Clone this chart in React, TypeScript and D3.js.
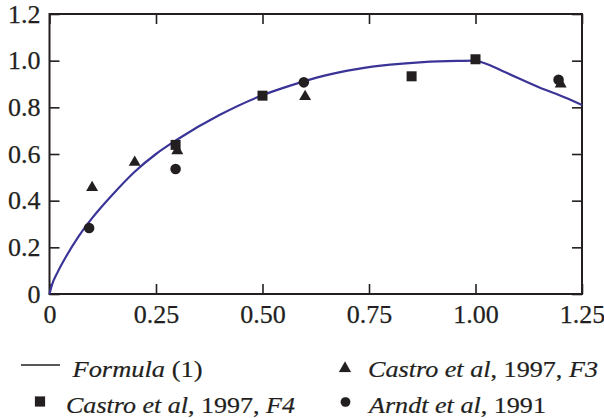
import React, { useEffect, useRef } from 'react';
import * as d3 from 'd3';

// curve "Formula (1)"
const formulaX = [0, 0.005, 0.02, 0.04, 0.068, 0.1, 0.15, 0.2, 0.25, 0.3, 0.4, 0.5, 0.565, 0.643, 0.721, 0.8, 0.877, 0.956, 1.0, 1.02, 1.07, 1.15, 1.21, 1.25];
const formulaY = [0, 0.035, 0.097, 0.164, 0.246, 0.325, 0.43, 0.524, 0.6, 0.662, 0.768, 0.852, 0.893, 0.935, 0.964, 0.983, 0.994, 0.999, 1.0, 0.99, 0.95, 0.885, 0.842, 0.81];

// Castro et al, 1997, F3 (triangles)
const castroF3X = [0.1, 0.2, 0.3, 0.6, 1.2];
const castroF3Y = [0.456, 0.564, 0.614, 0.846, 0.9];

// Castro et al, 1997, F4 (squares)
const castroF4X = [0.296, 0.5, 0.85, 1.0];
const castroF4Y = [0.639, 0.85, 0.933, 1.006];

// Arndt et al, 1991 (circles)
const arndtX = [0.093, 0.296, 0.597, 1.195];
const arndtY = [0.283, 0.536, 0.907, 0.918];

const xTicks = [0, 0.25, 0.5, 0.75, 1.0, 1.25];
const xTickLabels = ['0', '0.25', '0.50', '0.75', '1.00', '1.25'];
const yTicks = [0, 0.2, 0.4, 0.6, 0.8, 1.0, 1.2];
const yTickLabels = ['0', '0.2', '0.4', '0.6', '0.8', '1.0', '1.2'];

const ink = '#231f20';
const curveColor = '#3b3497';

export default function App() {
  const svgRef = useRef<SVGSVGElement>(null);
  const width = 604;
  const height = 418;
  const margin = { top: 14, right: 22, bottom: 124, left: 49.5 };

  useEffect(() => {
    const svg = d3.select(svgRef.current);
    svg.selectAll('*').remove();

    const x = d3.scaleLinear().domain([0, 1.25]).range([margin.left, width - margin.right]);
    const y = d3.scaleLinear().domain([0, 1.2]).range([height - margin.bottom, margin.top]);
    const font = "'Liberation Serif', serif";

    // ticks, pointing inward, on all four sides
    const bottom = svg.append('g')
      .attr('transform', `translate(0,${y(0)})`)
      .call(d3.axisBottom(x).tickValues(xTicks).tickSizeInner(-10).tickSizeOuter(0).tickPadding(11)
        .tickFormat((_, i) => xTickLabels[i]));
    const left = svg.append('g')
      .attr('transform', `translate(${x(0)},0)`)
      .call(d3.axisLeft(y).tickValues(yTicks).tickSizeInner(-10).tickSizeOuter(0).tickPadding(9)
        .tickFormat((_, i) => yTickLabels[i]));
    svg.append('g')
      .attr('transform', `translate(0,${y(1.2)})`)
      .call(d3.axisTop(x).tickValues(xTicks).tickSizeInner(-10).tickSizeOuter(0).tickFormat(() => ''));
    svg.append('g')
      .attr('transform', `translate(${x(1.25)},0)`)
      .call(d3.axisRight(y).tickValues(yTicks).tickSizeInner(-10).tickSizeOuter(0).tickFormat(() => ''));

    svg.selectAll('.domain').remove();
    svg.selectAll('.tick line').attr('stroke', ink).attr('stroke-width', 1.6);
    [bottom, left].forEach((g) => {
      g.attr('font-family', font).attr('font-size', 26);
      g.selectAll('text').attr('fill', ink).attr('stroke', ink).attr('stroke-width', 0.25);
    });

    svg.append('rect')
      .attr('x', x(0)).attr('y', y(1.2))
      .attr('width', x(1.25) - x(0)).attr('height', y(0) - y(1.2))
      .attr('fill', 'none').attr('stroke', ink).attr('stroke-width', 2);

    // formula curve
    const line = d3.line<number>()
      .x((d) => x(d))
      .y((_, i) => y(formulaY[i]))
      .curve(d3.curveMonotoneX);
    svg.append('path')
      .attr('d', line(formulaX))
      .attr('fill', 'none')
      .attr('stroke', curveColor)
      .attr('stroke-width', 2.2);

    const tri = d3.symbol().type(d3.symbolTriangle).size(62);

    // markers
    svg.append('g').selectAll('path')
      .data(castroF3X)
      .enter().append('path')
      .attr('d', tri())
      .attr('transform', (d, i) => `translate(${x(d)},${y(castroF3Y[i])})`)
      .attr('fill', ink);
    svg.append('g').selectAll('rect')
      .data(castroF4X)
      .enter().append('rect')
      .attr('x', (d) => x(d) - 5)
      .attr('y', (_, i) => y(castroF4Y[i]) - 5)
      .attr('width', 10).attr('height', 10)
      .attr('fill', ink);
    svg.append('g').selectAll('circle')
      .data(arndtX)
      .enter().append('circle')
      .attr('cx', (d) => x(d))
      .attr('cy', (_, i) => y(arndtY[i]))
      .attr('r', 5.3)
      .attr('fill', ink);

    // legend
    const lg = svg.append('g').attr('font-family', font).attr('font-size', 23).attr('fill', ink)
      .attr('stroke', ink).attr('stroke-width', 0.2);
    lg.append('line').attr('x1', 21).attr('x2', 60).attr('y1', 365).attr('y2', 365)
      .attr('stroke', ink).attr('stroke-width', 1.6);
    lg.append('path').attr('d', tri()).attr('transform', 'translate(345,368.5)');
    lg.append('rect').attr('x', 35).attr('y', 396.5).attr('width', 10).attr('height', 10);
    lg.append('circle').attr('cx', 345.5).attr('cy', 402).attr('r', 4.8);

    const entry = (tx: number, ty: number, w: number, parts: [string, boolean][]) => {
      const t = lg.append('text').attr('x', tx).attr('y', ty)
        .attr('textLength', w).attr('lengthAdjust', 'spacingAndGlyphs');
      parts.forEach(([s, it]) => t.append('tspan').attr('font-style', it ? 'italic' : 'normal').text(s));
    };
    entry(72.5, 377, 130, [['Formula', true], [' (1)', false]]);
    entry(368, 377, 230, [['Castro et al', true], [', 1997, ', false], ['F3', true]]);
    entry(66, 412.5, 229, [['Castro et al', true], [', 1997, ', false], ['F4', true]]);
    entry(369, 412.5, 177, [['Arndt et al', true], [', 1991', false]]);
  }, []);

  return (
    <svg
      ref={svgRef}
      width={width}
      height={height}
      style={{ position: 'absolute', left: 0, top: 0, background: '#fff' }}
    ></svg>
  );
}
